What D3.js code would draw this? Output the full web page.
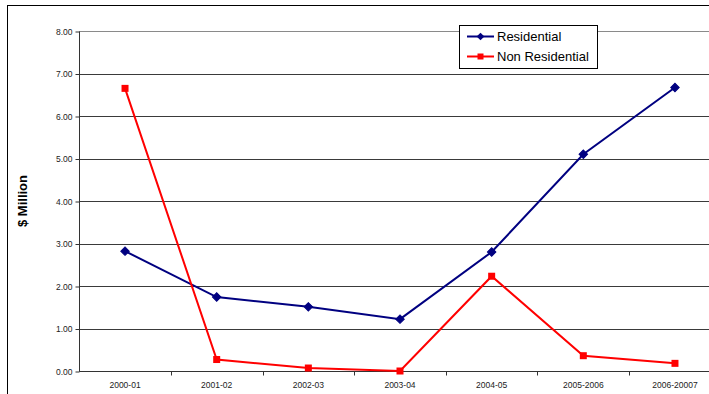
<!DOCTYPE html>
<html>
<head>
<meta charset="utf-8">
<script src="https://cdn.jsdelivr.net/npm/d3@7/dist/d3.min.js"></script>
<style>
  html, body { margin: 0; padding: 0; background: #fff; }
  svg { display: block; font-family: "Liberation Sans", Arial, sans-serif; }
</style>
</head>
<body>
<svg id="chart" width="709" height="394"></svg>
<script>
// Financial years on the category axis
const years = ["2000-01", "2001-02", "2002-03", "2003-04", "2004-05", "2005-2006", "2006-20007"];
// Values in $ Million
const residential = [2.82, 1.74, 1.51, 1.22, 2.80, 5.10, 6.67];
const nonResidential = [6.65, 0.27, 0.07, 0.00, 2.23, 0.36, 0.18];
const yTicks = [0, 1, 2, 3, 4, 5, 6, 7, 8];
const seriesNames = ["Residential", "Non Residential"];

(function draw() {
  const svg = d3.select("#chart");

  // Plot area
  const plotLeft = 79.2, plotRight = 720.8, plotTop = 31, plotBottom = 371;

  // Outer chart frame
  svg.append("rect")
    .attr("x", 7.5).attr("y", 5.5)
    .attr("width", 720).attr("height", 400)
    .attr("fill", "none").attr("stroke", "#000").attr("stroke-width", 1);

  const x = d3.scaleBand().domain(years).range([plotLeft, plotRight]).padding(0);
  const y = d3.scaleLinear().domain([0, 8]).range([plotBottom, plotTop]);

  // Horizontal gridlines
  svg.append("g")
    .selectAll("line")
    .data(yTicks.filter(d => d > 0))
    .join("line")
    .attr("x1", plotLeft).attr("x2", plotRight)
    .attr("y1", d => Math.round(y(d)) + 0.5).attr("y2", d => Math.round(y(d)) + 0.5)
    .attr("stroke", d => d === 8 ? "#8a8a8a" : "#3a3a3a")
    .attr("stroke-width", 1);

  // Y axis
  const yAxis = d3.axisLeft(y).tickValues(yTicks).tickFormat(d3.format(".2f")).tickSize(4).tickPadding(3);
  const gy = svg.append("g").attr("transform", `translate(${Math.round(plotLeft) + 0.5},0.5)`).call(yAxis);
  gy.select(".domain").attr("stroke", "#333").attr("d", `M0,${Math.round(plotTop)}V${Math.round(plotBottom)}`);
  gy.selectAll(".tick line").attr("stroke", "#333");
  gy.selectAll(".tick text").attr("font-size", 8.5).attr("fill", "#222")
    .attr("font-family", "Liberation Sans, Arial, sans-serif");

  // X axis: ticks sit between categories
  const xAxis = d3.axisBottom(x).tickSize(0).tickPadding(10);
  const gx = svg.append("g").attr("transform", `translate(0,${Math.round(plotBottom) + 0.5})`).call(xAxis);
  gx.select(".domain").attr("stroke", "#333").attr("d", `M${plotLeft},0H${plotRight}`);
  gx.selectAll(".tick text").attr("font-size", 8.5).attr("fill", "#222")
    .attr("font-family", "Liberation Sans, Arial, sans-serif");
  gx.append("g")
    .selectAll("line")
    .data(years.slice(1))
    .join("line")
    .attr("x1", d => Math.round(x(d)) + 0.5).attr("x2", d => Math.round(x(d)) + 0.5)
    .attr("y1", 0).attr("y2", 4)
    .attr("stroke", "#333");

  // Y axis title
  svg.append("text")
    .attr("transform", `translate(27,201) rotate(-90)`)
    .attr("text-anchor", "middle")
    .attr("font-size", 13).attr("font-weight", "bold").attr("fill", "#000")
    .text("$ Million");

  const cx = d => x(d) + x.bandwidth() / 2;
  const line = d3.line().x(d => cx(d.year)).y(d => y(d.value));

  const resData = years.map((yr, i) => ({ year: yr, value: residential[i] }));
  const nonData = years.map((yr, i) => ({ year: yr, value: nonResidential[i] }));

  const navy = "#000080", red = "#ff0000";

  // Residential series
  svg.append("path").datum(resData)
    .attr("d", line).attr("fill", "none").attr("stroke", navy).attr("stroke-width", 2);
  svg.append("g").selectAll("path")
    .data(resData).join("path")
    .attr("transform", d => `translate(${cx(d.year)},${y(d.value)}) rotate(45)`)
    .attr("d", d3.symbol().type(d3.symbolSquare).size(36)())
    .attr("fill", navy).attr("stroke", navy).attr("stroke-width", 1);

  // Non Residential series
  svg.append("path").datum(nonData)
    .attr("d", line).attr("fill", "none").attr("stroke", red).attr("stroke-width", 2);
  svg.append("g").selectAll("rect")
    .data(nonData).join("rect")
    .attr("x", d => cx(d.year) - 3.5).attr("y", d => y(d.value) - 3.5)
    .attr("width", 7).attr("height", 7)
    .attr("fill", red);

  // Legend
  const lg = svg.append("g");
  lg.append("rect")
    .attr("x", 459.5).attr("y", 25.5).attr("width", 138).attr("height", 43)
    .attr("fill", "#fff").attr("stroke", "#000").attr("stroke-width", 1);
  const colors = [navy, red];
  seriesNames.forEach((name, i) => {
    const ly = 36.5 + i * 20;
    lg.append("line")
      .attr("x1", 467).attr("x2", 494).attr("y1", ly).attr("y2", ly)
      .attr("stroke", colors[i]).attr("stroke-width", 2);
    if (i === 0) {
      lg.append("path")
        .attr("transform", `translate(480.5,${ly}) rotate(45)`)
        .attr("d", d3.symbol().type(d3.symbolSquare).size(30)())
        .attr("fill", navy);
    } else {
      lg.append("rect")
        .attr("x", 477.5).attr("y", ly - 3).attr("width", 6).attr("height", 6)
        .attr("fill", red);
    }
    lg.append("text")
      .attr("x", 497).attr("y", ly + 4.5)
      .attr("font-size", 13).attr("fill", "#000")
      .text(name);
  });
})();
</script>
</body>
</html>
